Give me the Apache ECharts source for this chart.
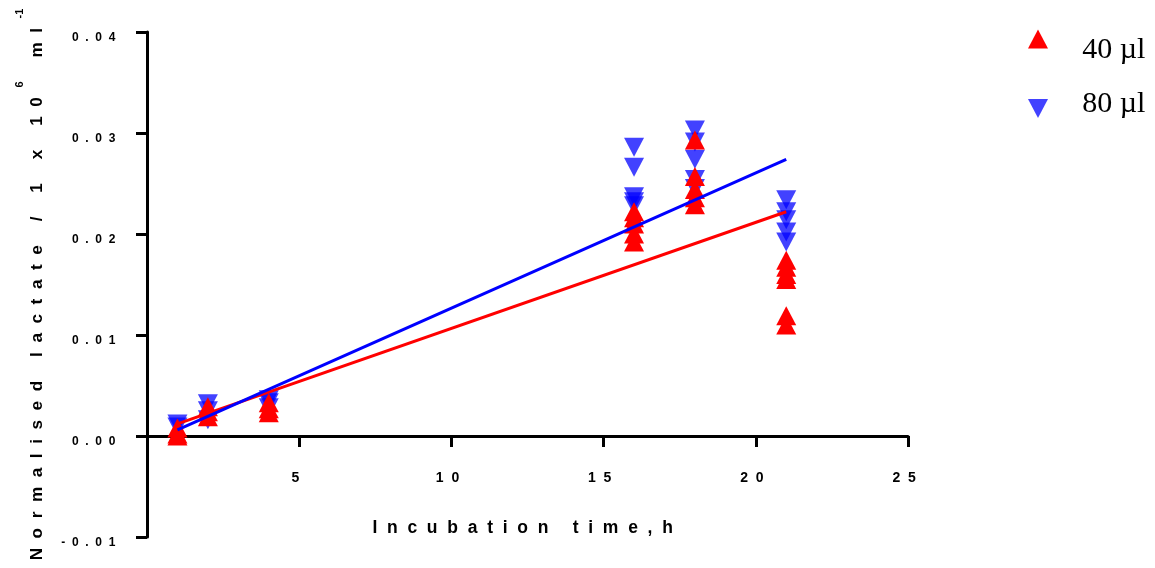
<!DOCTYPE html>
<html><head><meta charset="utf-8">
<script src="https://cdn.jsdelivr.net/npm/echarts@6/dist/echarts.min.js"></script>
<style>html,body{margin:0;padding:0;background:#fff}#c{width:1155px;height:568px}</style>
</head><body><div id="c"></div>
<script>
// ---- data ----
const xTickValues = [0, 5, 10, 15, 20, 25];
const xTickLabels = ['', '5', '10', '15', '20', '25'];
const yTickValues = [-0.01, 0, 0.01, 0.02, 0.03, 0.04];
const yTickLabels = ['-0.01', '0.00', '0.01', '0.02', '0.03', '0.04'];

const time40 = [1, 1, 1, 2, 2, 2, 4, 4, 4, 16, 16, 16, 16, 16, 18, 18, 18, 18, 18, 21, 21, 21, 21, 21, 21];
const lact40 = [0.0000, 0.0002, 0.0008, 0.0019, 0.0024, 0.0029, 0.0023, 0.0027, 0.0033,
                0.0192, 0.0200, 0.0210, 0.0216, 0.0222,
                0.0229, 0.0236, 0.0244, 0.0257, 0.0293,
                0.0110, 0.0119, 0.0155, 0.0160, 0.0167, 0.0174];
const time80 = [1, 1, 2, 2, 2, 4, 4, 4, 16, 16, 16, 16, 16, 18, 18, 18, 18, 18, 21, 21, 21, 21, 21];
const lact80 = [0.0009, 0.0012, 0.0016, 0.0025, 0.0032, 0.0028, 0.0033, 0.0036,
                0.0228, 0.0232, 0.0237, 0.0266, 0.0286,
                0.0245, 0.0254, 0.0274, 0.0291, 0.0303,
                0.0192, 0.0202, 0.0214, 0.0222, 0.0234];
const fitTime = [1, 21];
const fit40 = [0.0012, 0.0222];
const fit80 = [0.0006, 0.0274];

const seriesNames = ['40 µl', '80 µl'];
const xTitle = 'Incubation time,h';
const yTitleMain = 'Normalised lactate / 1 x 10';
const yTitleSup1 = '6';
const yTitleMid = ' ml';
const yTitleSup2 = '-1';

// ---- helpers ----
const SEP = '  ';
function spaced(s) { return s.split('').join(SEP) + SEP; }
function zip(a, b) { return a.map((v, i) => [v, b[i]]); }
function lookup(vals, labels, v) {
  for (let i = 0; i < vals.length; i++) if (Math.abs(vals[i] - v) < 1e-9) return labels[i];
  return '';
}

const chart = echarts.init(document.getElementById('c'));
const BOLD = { fontFamily: 'Liberation Sans', fontWeight: 'bold', color: '#000' };
const legendRich = (lineH, align) => ({
  sp: { fontSize: 1, lineHeight: lineH },
  a: { fontFamily: 'Liberation Serif', fontSize: 30, lineHeight: 31, color: '#000', verticalAlign: align }
});

chart.setOption({
  animation: false,
  backgroundColor: '#fff',
  grid: { left: 147, right: 247, top: 32, bottom: 31, outerBoundsMode: 'none', containLabel: false },
  legend: [
    {
      orient: 'vertical', left: 1028, top: 29.5, padding: 0,
      itemWidth: 20, itemHeight: 19,
      data: [seriesNames[0]],
      formatter: n => '{sp| }{a|' + n + '}',
      textStyle: { padding: [0, 0, 0, 29], rich: legendRich(53, 'bottom') }
    },
    {
      orient: 'vertical', left: 1028, top: 89.5, padding: 0,
      itemWidth: 20, itemHeight: 19,
      data: [seriesNames[1]],
      formatter: n => '{sp| }{a|' + n + '}',
      textStyle: { padding: [0, 0, 0, 29], rich: legendRich(38, 'top') }
    }
  ],
  xAxis: {
    type: 'value', min: 0, max: 25, interval: 5,
    axisLine: { onZero: true, lineStyle: { color: '#000', width: 3 } },
    axisTick: { show: true, length: 11, lineStyle: { color: '#000', width: 3 } },
    splitLine: { show: false },
    axisLabel: Object.assign({ fontSize: 14, margin: -66, formatter: v => spaced(lookup(xTickValues, xTickLabels, v)) }, BOLD),
    name: spaced(xTitle), nameLocation: 'middle', nameGap: -18, nameMoveOverlap: false,
    nameTextStyle: Object.assign({ fontSize: 17.5 }, BOLD)
  },
  yAxis: {
    type: 'value', min: -0.01, max: 0.04, interval: 0.01,
    axisLine: { show: true, lineStyle: { color: '#000', width: 3 } },
    axisTick: { show: true, length: 11, lineStyle: { color: '#000', width: 3 } },
    splitLine: { show: false },
    axisLabel: Object.assign({ fontSize: 12, margin: 25, verticalAlign: 'top', formatter: v => spaced(lookup(yTickValues, yTickLabels, v)) }, BOLD),
    name: '{b|' + spaced(yTitleMain) + '}{s|' + yTitleSup1 + '}{b|' + SEP + spaced(yTitleMid) + '}{s|' + yTitleSup2 + '}',
    nameLocation: 'middle', nameGap: 87, nameMoveOverlap: false,
    nameTextStyle: {
      rich: {
        b: Object.assign({ fontSize: 17.2, lineHeight: 46, verticalAlign: 'middle' }, BOLD),
        s: Object.assign({ fontSize: 11, verticalAlign: 'top' }, BOLD)
      }
    }
  },
  series: [
    {
      name: seriesNames[1], type: 'scatter', z: 2,
      symbol: 'path://M0,0L20,0L10,19Z', symbolSize: [20, 19],
      itemStyle: { color: '#0000ff', opacity: 0.74 },
      data: zip(time80, lact80)
    },
    {
      name: seriesNames[0], type: 'scatter', z: 3,
      symbol: 'triangle', symbolSize: [20, 19],
      itemStyle: { color: '#ff0000', opacity: 1 },
      data: zip(time40, lact40)
    },
    {
      type: 'line', z: 4, symbol: 'none', silent: true,
      lineStyle: { color: '#ff0000', width: 3 },
      data: zip(fitTime, fit40)
    },
    {
      type: 'line', z: 5, symbol: 'none', silent: true,
      lineStyle: { color: '#0000ff', width: 3 },
      data: zip(fitTime, fit80)
    }
  ]
});
</script></body></html>
